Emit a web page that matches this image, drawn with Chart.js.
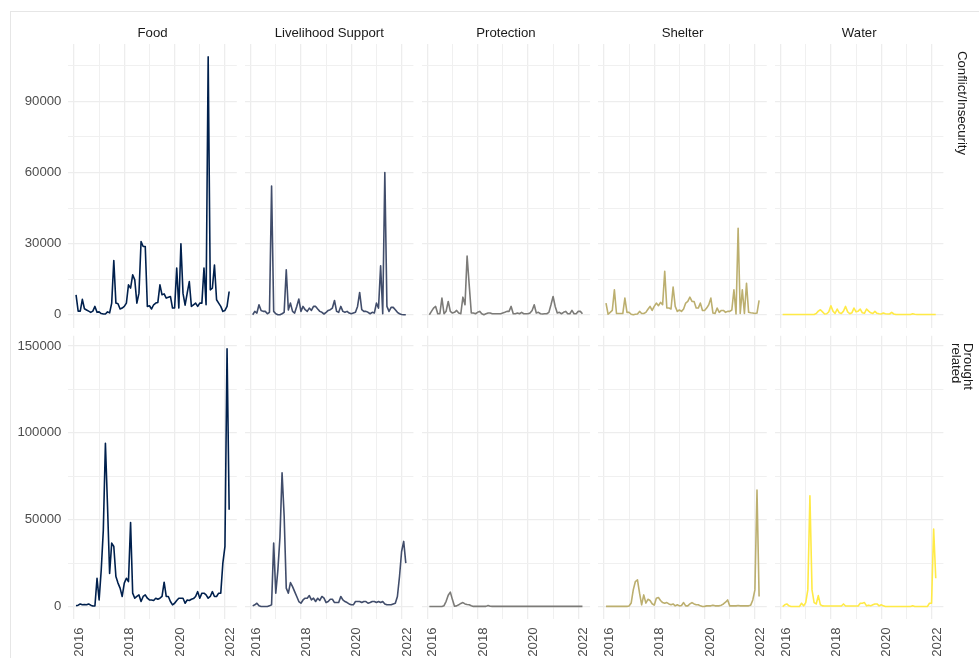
<!DOCTYPE html>
<html>
<head>
<meta charset="utf-8">
<title>Monthly caseload by sector and shock</title>
<script src="https://cdn.jsdelivr.net/npm/chart.js@4.4.1/dist/chart.umd.min.js"></script>
<style>
  html, body { margin: 0; padding: 0; background: #ffffff; }
  #fig { position: relative; width: 979px; height: 658px; overflow: hidden; background: #ffffff;
         font-family: "Liberation Sans", Arial, Helvetica, sans-serif; }
  #frame { position: absolute; left: 10px; top: 11px; width: 1000px; height: 700px;
           border: 1px solid #E6E6E6; box-sizing: border-box; }
  #fig canvas { position: absolute; left: 0; top: 0; }
  .strip-x { position: absolute; font-size: 13.2px; color: #1A1A1A; white-space: nowrap;
             transform: translate(-50%, -50%); }
  .strip-y { position: absolute; font-size: 13.2px; color: #1A1A1A; white-space: pre;
             writing-mode: vertical-rl; line-height: 12.5px; }
</style>
</head>
<body>
<div id="fig"><div id="frame"></div></div>
<script>
// ---- data ---------------------------------------------------------------
const months = [
  "2016-01","2016-02","2016-03","2016-04","2016-05","2016-06","2016-07","2016-08","2016-09","2016-10","2016-11","2016-12",
  "2017-01","2017-02","2017-03","2017-04","2017-05","2017-06","2017-07","2017-08","2017-09","2017-10","2017-11","2017-12",
  "2018-01","2018-02","2018-03","2018-04","2018-05","2018-06","2018-07","2018-08","2018-09","2018-10","2018-11","2018-12",
  "2019-01","2019-02","2019-03","2019-04","2019-05","2019-06","2019-07","2019-08","2019-09","2019-10","2019-11","2019-12",
  "2020-01","2020-02","2020-03","2020-04","2020-05","2020-06","2020-07","2020-08","2020-09","2020-10","2020-11","2020-12",
  "2021-01","2021-02","2021-03","2021-04","2021-05","2021-06","2021-07","2021-08","2021-09","2021-10","2021-11","2021-12",
  "2022-01","2022-02"
];

const sectors = ["Food", "Livelihood Support", "Protection", "Shelter", "Water"];
const shocks = ["Conflict/Insecurity", "Drought\nrelated"];

// Conflict/Insecurity
const foodConflict = [8400,1500,1500,6500,2500,2000,1500,1000,1500,3500,1000,1200,500,300,300,1200,800,4900,22900,4900,4600,2400,2800,3500,4900,12600,11200,16800,14700,4900,9100,30900,28800,28800,3500,3800,2400,4200,4900,5200,12600,8400,8800,7000,7400,7700,2800,2800,19700,2800,29900,9000,4000,9100,14000,3500,4200,4900,3500,4900,4900,19700,4200,108800,10500,11200,21000,6300,4900,3500,1400,1800,3500,9800];
const livelihoodConflict = [0,1400,700,4200,1800,1400,1400,400,1000,54300,1400,400,0,0,400,1000,19000,2000,4900,1400,700,3500,6600,1400,3500,2100,1400,2800,1800,3500,3500,2400,1400,1000,300,1000,1800,2100,2800,6000,1400,1000,3500,1400,1000,1400,700,400,700,1000,3500,9400,2100,1400,1400,1000,400,1000,700,4900,2800,20600,400,60000,3500,1400,3100,3100,2100,1000,400,100,0,0];
const protectionConflict = [0,1400,2800,3500,400,400,7000,400,1500,5600,1400,700,1000,1800,700,400,7400,4200,24800,12600,700,700,400,1000,1400,400,0,400,700,700,400,400,400,400,400,700,1000,1400,1400,3500,400,400,700,400,1000,400,400,400,700,1800,4200,700,1000,400,300,400,400,1000,4200,7700,3500,700,1000,400,1000,1400,400,400,1800,400,400,1400,1400,400];
const shelterConflict = [4900,200,1000,1800,10500,500,500,500,500,7000,1000,1000,200,0,200,300,1400,500,500,1000,2300,3500,1800,3500,4900,3800,5200,4200,18300,2800,2800,2400,11700,3500,1400,2000,1400,2400,4900,5600,7400,5600,5600,2800,2800,4900,1800,1800,2800,4200,7000,700,500,2800,1000,1800,1800,1000,1400,1400,2000,10500,300,36500,500,10500,500,13300,1000,800,700,500,700,6000];
const waterConflict = [100,100,100,100,100,100,100,100,100,100,100,100,100,100,100,100,500,1500,2100,1200,300,400,1200,3800,1500,500,2400,800,500,1500,3500,1200,400,800,2800,1200,1500,2400,800,600,2400,1500,800,500,1400,600,400,300,700,400,300,300,1000,300,100,100,100,100,100,100,100,100,400,200,100,100,100,100,100,100,100,100,100,100];

// Drought related
const foodDrought = [400,800,1500,1000,1200,1000,1500,800,300,300,16300,3800,21000,44000,94000,58000,19000,36500,34600,17300,13500,10600,5800,13500,16300,14400,48400,7700,4800,5800,6700,2900,5800,6700,4800,3800,3800,3500,4800,4200,4800,5800,14000,5800,5800,2900,1000,1900,3500,4800,4800,4800,1900,3800,3500,4200,4600,5800,8600,4800,7700,7700,6700,4800,5800,8600,5800,5800,7700,7700,25000,34600,148400,55700];
const livelihoodDrought = [400,1000,1900,400,0,0,0,0,400,1000,36500,7700,21000,40000,77000,52000,10600,7700,13800,11500,8600,5800,2900,1900,3800,4800,4800,6300,3800,4800,2900,4800,3500,5800,4800,2300,2900,4200,4200,2300,2300,2300,5800,3800,2900,2300,1500,1000,1000,2900,2900,2900,2300,2900,2900,1900,2300,2900,2900,2300,2900,2300,2900,1500,1000,1000,1000,1500,1900,5800,17300,31700,37500,25000];
const protectionDrought = [0,0,0,0,0,0,0,500,3000,6500,8300,4000,200,400,1000,1800,2300,1500,1200,1000,500,100,100,100,100,100,100,100,600,200,100,100,100,100,100,100,100,100,100,100,100,100,100,100,100,100,100,100,100,100,100,100,100,100,100,100,100,100,100,100,100,100,100,100,100,100,100,100,100,100,100,100,100,100];
const shelterDrought = [100,100,100,100,100,100,100,100,100,100,100,300,2000,9600,14400,15400,7700,1000,6700,2000,4200,3500,1600,800,4800,5200,3500,2300,1900,2300,1500,1000,1500,400,1000,400,600,2300,400,400,1500,2300,1500,1000,1000,400,0,100,400,400,400,800,400,400,400,800,1500,2500,3800,400,400,400,400,600,400,400,400,400,400,800,3800,9600,67000,5800];
const waterDrought = [0,1000,1500,400,0,0,0,0,0,1900,400,2300,9600,63800,9600,2300,1500,6300,1000,400,300,300,300,300,300,300,300,300,300,1500,300,300,300,300,300,300,300,1900,1900,2300,400,800,400,1000,1500,1500,400,1000,400,0,0,0,0,0,0,0,0,0,0,0,0,0,400,0,0,0,0,0,0,0,1900,1900,44600,16300];

// axis breaks
const yearTicks = [2016, 2018, 2020, 2022];
const conflictTicks = [0, 30000, 60000, 90000];
const droughtTicks = [0, 50000, 100000, 150000];

// ---- style --------------------------------------------------------------
const sectorColors = ["#00204D", "#414D6B", "#7C7B78", "#BCAF6F", "#FFEA46"];
const FONT = '"Liberation Sans", Arial, Helvetica, sans-serif';
const GRID_MAJOR = "#EDEDED", GRID_MINOR = "#F0F0F0";
const FIG_W = 979, FIG_H = 658;
const PANEL_LEFT = 68.4, PANEL_TOP = 44, PANEL_W = 168.4, PANEL_H = 283.6, GAP = 8.25;

const panelSeries = [
  [foodConflict, livelihoodConflict, protectionConflict, shelterConflict, waterConflict],
  [foodDrought, livelihoodDrought, protectionDrought, shelterDrought, waterDrought]
];
const rowBreaks = [conflictTicks, droughtTicks];

// month "YYYY-MM" -> decimal year at the end of that month
const xVals = months.map(m => { const p = m.split("-").map(Number); return p[0] + p[1] / 12; });
const xLo = Math.min(...xVals), xHi = Math.max(...xVals);
const xMin = xLo - 0.05 * (xHi - xLo), xMax = xHi + 0.05 * (xHi - xLo);

// major breaks plus the minor lines halfway between them
function withMinor(breaks, lo, hi) {
  const step = breaks[1] - breaks[0];
  const out = [];
  for (let i = 0; i < breaks.length; i++) {
    out.push(breaks[i]);
    const mid = breaks[i] + step / 2;
    if (mid >= lo && mid <= hi) out.push(mid);
  }
  if (breaks[0] - step / 2 >= lo) out.unshift(breaks[0] - step / 2);
  return out;
}
const xGrid = withMinor(yearTicks, xMin, xMax);

const fig = document.getElementById("fig");

function zeroPad(s) { s.paddingLeft = 0; s.paddingRight = 0; s.paddingTop = 0; s.paddingBottom = 0; }
function gridStyle(majors) {
  return {
    color: ctx => (ctx.tick && majors.includes(ctx.tick.value)) ? GRID_MAJOR : GRID_MINOR,
    lineWidth: ctx => (ctx.tick && majors.includes(ctx.tick.value)) ? 1.3 : 1,
    drawTicks: false
  };
}

for (let r = 0; r < 2; r++) {
  const rowMax = Math.max(...panelSeries[r].map(a => Math.max(...a)));
  const yMin = -0.05 * rowMax, yMax = 1.05 * rowMax;
  const majors = rowBreaks[r];
  const yGrid = withMinor(majors, yMin, yMax);

  for (let c = 0; c < 5; c++) {
    const left = PANEL_LEFT + c * (PANEL_W + GAP);
    const top = PANEL_TOP + r * (PANEL_H + GAP);
    const showY = c === 0, showX = r === 1;
    const bottomSpace = FIG_H - (top + PANEL_H);

    const canvas = document.createElement("canvas");
    canvas.width = FIG_W; canvas.height = FIG_H;
    canvas.style.width = FIG_W + "px"; canvas.style.height = FIG_H + "px";
    fig.appendChild(canvas);

    const values = panelSeries[r][c];
    new Chart(canvas, {
      type: "line",
      data: {
        datasets: [{
          data: values.map((v, i) => ({ x: xVals[i], y: v })),
          borderColor: sectorColors[c],
          borderWidth: 1.6,
          borderJoinStyle: "round",
          pointRadius: 0,
          fill: false,
          tension: 0
        }]
      },
      options: {
        responsive: false,
        animation: false,
        events: [],
        devicePixelRatio: 1,
        layout: {
          padding: {
            left: showY ? 0 : left,
            top: top,
            right: FIG_W - left - PANEL_W,
            bottom: showX ? 0 : FIG_H - top - PANEL_H
          }
        },
        plugins: { legend: { display: false }, tooltip: { enabled: false }, title: { display: false } },
        scales: {
          x: {
            type: "linear",
            min: xMin, max: xMax,
            afterBuildTicks: s => { s.ticks = xGrid.map(v => ({ value: v })); },
            grid: gridStyle(yearTicks),
            border: { display: false },
            ticks: {
              display: showX,
              autoSkip: false,
              minRotation: 90, maxRotation: 90,
              padding: 8,
              labelOffset: 5.5,
              color: "#4D4D4D",
              font: { family: FONT, size: 13.2 },
              callback: v => yearTicks.includes(v) ? String(v) : ""
            },
            afterFit: s => { s.height = showX ? bottomSpace : 0; zeroPad(s); }
          },
          y: {
            type: "linear",
            min: yMin, max: yMax,
            afterBuildTicks: s => { s.ticks = yGrid.map(v => ({ value: v })); },
            grid: gridStyle(majors),
            border: { display: false },
            ticks: {
              display: showY,
              padding: 7,
              color: "#4D4D4D",
              font: { family: FONT, size: 13.2 },
              callback: v => majors.includes(v) ? String(v) : ""
            },
            afterFit: s => { s.width = showY ? left : 0; zeroPad(s); }
          }
        }
      }
    });

    // column strip on the top row
    if (r === 0) {
      const t = document.createElement("div");
      t.className = "strip-x";
      t.textContent = sectors[c];
      t.style.left = (left + PANEL_W / 2) + "px";
      t.style.top = "32px";
      fig.appendChild(t);
    }
  }

  // row strip on the right
  const s = document.createElement("div");
  s.className = "strip-y";
  s.textContent = shocks[r];
  const lines = shocks[r].split("\n").length;
  s.style.left = (961.5 - lines * 12.5 / 2) + "px";
  s.style.top = (PANEL_TOP + r * (PANEL_H + GAP) + 7) + "px";
  fig.appendChild(s);
}
</script>
</body>
</html>
